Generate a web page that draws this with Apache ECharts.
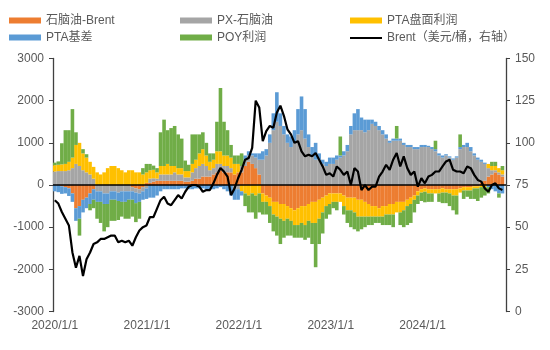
<!DOCTYPE html>
<html><head><meta charset="utf-8">
<script src="https://cdn.jsdelivr.net/npm/echarts@6/dist/echarts.min.js"></script>
<style>html,body{margin:0;padding:0;background:#fff}#c{width:550px;height:350px}</style>
</head><body><div id="c"></div>
<script>
// biweekly samples starting 2020-01-01
const startYear = 2020, stepDays = 14;
const xMinLabel = '2020-01-01', xMaxDate = [2024, 10, 20];

const naphthaBrent = [0,0,-30,-50,-80,-200,-550,-500,-350,-300,-200,-100,0,0,0,0,0,0,0,0,0,0,-50,-80,-100,-50,50,
 50,80,100,100,100,100,100,100,100,100,80,80,100,150,150,200,200,200,250,300,350,300,300,300,250,300,
 300,450,550,500,400,250,-200,-250,-300,-400,-400,-450,-450,-500,-550,-600,-550,-500,-500,-450,-400,-400,-350,-300,-250,-200,
 -200,-200,-200,-250,-300,-300,-300,-350,-350,-400,-450,-500,-500,-550,-500,-500,-450,-450,-400,-400,-400,-350,-300,-250,-150,-100,
 -80,-100,-100,-100,-100,-80,-100,-100,-100,-100,-80,-50,-50,-50,-30,-30,50,100,200,250,300,250,200];
const pxNaphtha = [320,330,330,330,350,400,500,450,350,300,250,150,-150,-150,-200,-200,-150,-150,-180,-150,-150,-150,-100,-100,-100,-100,-80,
 100,80,50,150,150,150,150,200,150,150,100,100,200,250,300,300,250,150,150,200,150,150,150,100,-100,-100,
 150,150,150,200,250,350,600,700,1000,1300,1500,1400,1200,1000,900,1000,1200,1300,1100,900,700,600,600,500,450,500,
 500,600,650,700,800,1200,1300,1300,1300,1250,1300,1450,1400,1300,1200,1100,1000,1050,1050,1050,950,900,900,850,850,900,
 900,900,850,800,700,650,700,650,600,650,850,900,900,800,700,600,500,400,200,100,50,50,50];
const ptaProfit = [150,150,160,170,200,250,450,550,400,350,300,280,300,250,300,400,450,450,400,350,300,350,350,300,300,250,250,
 200,200,150,200,200,250,200,150,150,150,150,150,200,200,300,350,250,200,200,300,300,250,250,250,250,200,
 -150,-200,-250,-200,-250,-200,-200,-150,-200,-300,-350,-350,-400,-300,-300,-350,-400,-400,-450,-400,-500,-500,-450,-350,-250,-250,
 -200,-200,-200,-250,-300,-300,-350,-400,-400,-350,-300,-250,-250,-200,-250,-200,-250,-250,-250,-250,-200,-150,-150,-100,-100,-80,
 -80,-100,-100,-100,-100,-100,-80,-100,-150,-150,-100,-80,-80,-80,-50,-50,-50,-50,100,100,100,100,100];
const ptaBasis = [-150,-170,-180,-150,-180,-200,-300,-300,-300,-250,-250,-250,-250,-250,-250,-250,-200,-200,-200,-250,-250,-200,-200,-250,-200,-200,-250,
 -300,-300,-250,-150,-100,-100,-100,-100,-100,-80,-80,-100,-100,-80,-80,-80,-100,-100,-100,-80,-50,-100,-150,-250,-250,-250,
 -100,100,100,50,100,150,200,150,200,400,700,300,200,200,250,300,600,800,700,300,200,400,150,100,100,150,
 150,100,50,100,150,200,400,500,300,300,250,100,100,100,100,100,50,50,50,50,50,50,50,50,50,50,
 50,30,50,50,50,50,30,30,30,30,50,50,100,100,50,50,50,30,-50,-100,-150,-200,-200];
const poyProfit = [60,80,500,800,750,1150,300,-400,100,80,-150,-200,-400,-500,-650,-550,-500,-500,-450,-350,-400,-450,-400,-450,-400,150,200,
 150,100,100,800,1100,800,900,950,800,700,250,150,700,600,450,400,300,200,150,700,1500,800,600,300,200,200,
 300,-300,-400,-450,-550,-450,-300,-300,-400,-400,-450,-600,-400,-400,-350,-300,-300,-350,-350,-400,-500,-1050,-600,-500,-300,-250,
 -150,-200,450,-200,-300,-400,-400,-350,-300,-250,-200,-200,-150,-150,-200,-250,-250,-300,300,-300,-400,-450,-450,-300,-200,-200,
 -250,-200,-200,200,-200,-250,-250,-300,-350,-450,300,-200,-150,-200,-250,-300,-250,-200,-150,100,100,-100,100];
const brent = [66,64,59,55,51,35,26,33,21,31,35,40,41,43,43,44,45,45,41,42,41,42,39,44,48,50,51,
 56,56,61,66,68,64,63,66,69,67,71,74,75,75,74,71,72,72,76,81,85,83,80,69,73,79,
 84,90,91,97,125,121,101,107,110,109,118,122,116,108,105,100,101,95,92,93,92,94,90,86,81,82,
 80,86,84,81,83,75,85,83,72,75,72,74,74,80,83,87,84,90,94,86,92,85,81,83,74,79,
 76,80,81,83,83,86,89,90,84,83,83,82,86,85,81,78,77,73,71,75,76,73,72];

const leftTicks = {min:-3000, max:3000, interval:1000};
const rightTicks = {min:0, max:150, interval:25};
const names = ['石脑油-Brent','PX-石脑油','PTA盘面利润','PTA基差','POY利润','Brent（美元/桶，右轴）'];
const colors = ['#ED7D31','#A5A5A5','#FFC000','#5B9BD5','#70AD47','#000000'];

const dates = brent.map((_, i) => new Date(startYear, 0, 1 + i * stepDays).getTime());
const FONT = 'Liberation Sans, Arial, Noto Sans CJK SC, sans-serif';

function bar(idx, arr) {
  return {
    name: names[idx], type: 'bar', stack: 'total', barWidth: 3.6,
    data: arr.map((v, i) => [dates[i], v]),
    itemStyle: { color: colors[idx] }, emphasis: { disabled: true }
  };
}
const series = [bar(0, naphthaBrent), bar(1, pxNaphtha), bar(2, ptaProfit), bar(3, ptaBasis), bar(4, poyProfit)];
series[4].markLine = { silent: true, symbol: 'none', label: { show: false },
  lineStyle: { color: '#000', width: 1.5, type: 'solid' }, data: [{ yAxis: 0 }] };
series.push({ name: names[5], type: 'line', yAxisIndex: 1, symbol: 'none', showSymbol: false,
  data: brent.map((v, i) => [dates[i], v]), lineStyle: { color: '#000', width: 2.2 }, itemStyle: { color: '#000' }, z: 10 });

const legendTop = 14.5, rowStep = 17.5;
function legend(left, top, items, itemHeight) {
  return { orient: 'vertical', left: left, top: top, padding: 0, itemWidth: 32, itemHeight: itemHeight, itemGap: 5,
    textStyle: { fontSize: 12, color: '#595959', fontFamily: FONT },
    data: items.map(n => ({ name: n, icon: 'rect' })) };
}

const chart = echarts.init(document.getElementById('c'), null, { renderer: 'canvas' });
chart.setOption({
  animation: false,
  backgroundColor: '#fff',
  legend: [
    legend(9, legendTop, [names[0], names[3]], 6),
    legend(180, legendTop, [names[1], names[4]], 6),
    legend(350, legendTop, [names[2]], 6),
    legend(350, legendTop + rowStep, [names[5]], 2)
  ],
  grid: { left: 53, right: 44, top: 58.5, bottom: 38.5, containLabel: false },
  xAxis: {
    type: 'time', min: new Date(xMinLabel.replace(/-/g, '/')).getTime(), max: new Date(xMaxDate[0], xMaxDate[1], xMaxDate[2]).getTime(),
    splitNumber: 5,
    axisLine: { show: false, onZero: false }, axisTick: { show: false }, splitLine: { show: false },
    axisLabel: { fontSize: 12, color: '#595959', fontFamily: FONT, margin: 8,
      formatter: v => { const d = new Date(v); return d.getFullYear() + '/' + (d.getMonth() + 1) + '/' + d.getDate(); } }
  },
  yAxis: [
    { type: 'value', min: leftTicks.min, max: leftTicks.max, interval: leftTicks.interval,
      axisLine: { show: true, lineStyle: { color: '#404040', width: 1.3 } }, axisTick: { show: true, length: 4, lineStyle: { color: '#404040' } },
      splitLine: { show: false }, axisLabel: { fontSize: 12, color: '#595959', fontFamily: FONT, margin: 9, formatter: v => String(v) } },
    { type: 'value', min: rightTicks.min, max: rightTicks.max, interval: rightTicks.interval, position: 'right',
      axisLine: { show: true, lineStyle: { color: '#404040', width: 1.3 } }, axisTick: { show: true, length: 4, lineStyle: { color: '#404040' } },
      splitLine: { show: false }, axisLabel: { fontSize: 12, color: '#595959', fontFamily: FONT, margin: 9, formatter: v => String(v) } }
  ],
  series: series
});
</script></body></html>
